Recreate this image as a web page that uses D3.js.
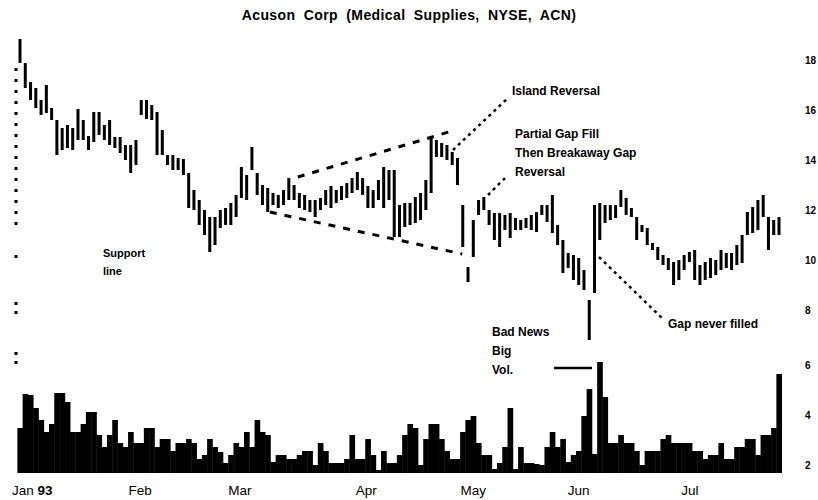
<!DOCTYPE html>
<html>
<head>
<meta charset="utf-8">
<script src="https://cdn.jsdelivr.net/npm/d3@7"></script>
<style>
  body { margin: 0; background: #fff; }
  svg { display: block; font-family: "Liberation Sans", Arial, sans-serif; }
</style>
</head>
<body>
<svg></svg>
<script>
// daily high / low (dollars), Jan 4 - Jul 30 1993, one entry per trading day
const highs = [18.84, 17.88, 17.12, 16.88, 16.40, 17.00, 16.08, 15.60, 15.28, 15.40,
  15.28, 16.04, 15.60, 14.96, 15.92, 15.92, 15.40, 15.60, 14.92, 14.92,
  14.60, 14.60, 14.80, 16.40, 16.40, 16.20, 15.92, 15.20, 14.20, 14.20,
  14.08, 14.04, 13.48, 12.80, 12.40, 12.00, 11.72, 11.72, 12.00, 12.08,
  12.28, 12.60, 13.72, 13.40, 14.52, 13.48, 13.00, 12.88, 12.68, 12.60,
  12.80, 13.28, 13.00, 12.68, 12.60, 12.40, 12.40, 12.48, 12.80, 12.96,
  12.80, 12.96, 13.08, 13.28, 13.52, 13.28, 12.96, 12.80, 13.20, 13.72,
  13.60, 13.60, 12.20, 12.28, 12.28, 12.52, 12.68, 13.20, 14.92, 14.80,
  14.68, 14.60, 14.32, 14.08, 12.20, 9.72, 11.60, 12.40, 12.52, 12.00,
  11.88, 11.88, 11.80, 11.88, 11.68, 11.60, 11.68, 11.80, 11.92, 12.20,
  12.20, 12.60, 11.40, 10.80, 10.28, 10.20, 10.08, 9.60, 8.40, 12.20,
  12.28, 12.20, 12.20, 12.20, 12.80, 12.48, 12.08, 11.72, 11.40, 11.28,
  10.68, 10.52, 10.20, 10.08, 9.92, 10.00, 10.20, 10.32, 10.40, 9.80,
  9.92, 10.08, 10.00, 10.40, 10.28, 10.28, 10.60, 11.00, 11.92, 12.12,
  12.40, 12.60, 11.72, 11.60, 11.72]
const lows = [17.88, 16.88, 16.40, 16.08, 15.80, 15.88, 15.60, 14.20, 14.40, 14.48,
  14.40, 14.80, 14.80, 14.40, 14.72, 15.00, 14.80, 14.60, 14.48, 14.28,
  14.00, 13.48, 13.80, 15.80, 15.64, 15.60, 14.20, 14.20, 13.80, 13.60,
  13.60, 13.40, 12.08, 12.00, 11.40, 11.00, 10.32, 10.60, 11.28, 11.40,
  11.40, 11.72, 12.48, 12.40, 13.60, 12.60, 12.20, 11.92, 12.20, 12.08,
  12.20, 12.40, 12.40, 12.08, 12.00, 11.92, 11.72, 12.00, 12.20, 12.08,
  12.28, 12.40, 12.48, 12.68, 12.80, 12.60, 12.08, 12.08, 12.40, 12.08,
  12.40, 10.92, 10.92, 11.32, 11.40, 11.48, 11.60, 12.00, 12.68, 14.12,
  14.12, 14.00, 13.80, 13.00, 10.52, 9.12, 10.12, 11.80, 12.00, 11.40,
  10.80, 10.52, 11.20, 10.88, 11.20, 11.20, 11.28, 11.20, 11.12, 11.80,
  11.52, 11.08, 10.60, 9.48, 9.68, 9.20, 9.00, 8.80, 6.80, 8.68,
  10.80, 11.48, 11.60, 11.68, 12.12, 11.80, 11.72, 10.80, 11.12, 10.60,
  10.40, 10.00, 9.80, 9.60, 9.00, 9.20, 9.60, 9.92, 9.20, 9.00,
  9.20, 9.28, 9.40, 9.60, 9.68, 9.60, 9.80, 9.88, 11.00, 11.08,
  11.20, 11.72, 10.40, 11.00, 11.00]
// daily volume (100,000 shares)
const volumes = [3.50, 4.86, 4.82, 4.30, 3.82, 3.34, 3.66, 4.90, 4.90, 4.54,
  3.34, 3.34, 3.66, 4.14, 4.14, 3.22, 2.74, 3.22, 3.82, 2.90,
  2.74, 3.34, 2.90, 2.90, 3.50, 3.50, 2.74, 3.06, 3.06, 2.58,
  2.90, 2.90, 3.06, 2.90, 2.26, 2.42, 3.06, 2.74, 2.54, 2.10,
  2.42, 2.90, 2.74, 3.34, 2.74, 3.82, 3.34, 3.22, 2.14, 2.42,
  2.42, 2.26, 2.26, 2.42, 2.58, 2.58, 2.02, 2.90, 2.58, 2.10,
  2.10, 2.10, 2.26, 3.22, 2.26, 2.26, 3.06, 2.42, 1.82, 2.58,
  2.10, 2.10, 2.42, 3.22, 3.66, 3.50, 2.02, 3.06, 3.66, 3.66,
  3.06, 2.58, 2.26, 2.26, 3.34, 3.82, 3.98, 2.90, 2.42, 2.42,
  1.86, 2.10, 2.74, 4.30, 1.86, 2.74, 2.10, 2.10, 2.06, 2.02,
  2.74, 3.34, 2.74, 3.06, 2.14, 2.42, 2.58, 3.98, 5.06, 2.46,
  6.14, 4.74, 2.90, 2.90, 3.22, 2.90, 2.90, 2.58, 2.02, 2.58,
  2.58, 2.58, 3.06, 3.22, 2.90, 2.90, 2.90, 2.90, 2.58, 2.58,
  2.26, 2.42, 2.42, 2.90, 2.26, 2.26, 2.74, 2.74, 3.06, 3.06,
  2.42, 3.22, 3.22, 3.50, 5.66]
const monthLabels = ['Feb', 'Mar', 'Apr', 'May', 'Jun', 'Jul']
const monthDays = [22.8, 41.7, 65.7, 86, 106, 127.1]
const priceTicks = [18, 16, 14, 12, 10, 8]
const volumeTicks = [6, 4, 2]
// wedge trendlines as [day, price]
const upperTrend = [[52.7, 13.32], [82, 15.16]]
const lowerTrend = [[47.4, 11.92], [83.9, 10.24]]

const width = 818
const height = 500

const svg = d3.select('svg')
    .attr('width', width)
    .attr('height', height)

const xScale = d3.scaleLinear()
    .domain([0, highs.length - 1])
    .range([20, 779])
const yScale = d3.scaleLinear()
    .domain([6, 19])
    .range([360, 35])
const volScale = d3.scaleLinear()
    .domain([1.7, 6.3])
    .range([473, 358])
const step = xScale(1) - xScale(0)

// title
svg.append('text')
    .attr('x', 409)
    .attr('y', 20)
    .attr('font-size', '14px')
    .attr('font-weight', 'bold')
    .style('letter-spacing', '0.4px')
    .style('word-spacing', '4px')
    .style('text-anchor', 'middle')
    .text('Acuson Corp (Medical Supplies, NYSE, ACN)')

// left frame, broken like the print
svg.append('line')
    .attr('x1', 16).attr('x2', 16)
    .attr('y1', 68).attr('y2', 230)
    .attr('stroke', '#000')
    .attr('stroke-width', 3)
    .attr('stroke-dasharray', '3,8')
;[[255, 263], [302, 314], [352, 365]].forEach(d => {
  svg.append('line')
      .attr('x1', 16).attr('x2', 16)
      .attr('y1', d[0]).attr('y2', d[1])
      .attr('stroke', '#000')
      .attr('stroke-width', 3)
      .attr('stroke-dasharray', '3,6')
})

// volume
svg.append('g')
  .selectAll('rect')
  .data(volumes)
  .enter()
  .append('rect')
    .attr('x', (d, i) => xScale(i) - step / 2)
    .attr('width', step + 0.4)
    .attr('y', d => volScale(d))
    .attr('height', d => volScale.range()[0] - volScale(d))
    .attr('fill', '#000')

// price bars
svg.append('g')
  .selectAll('rect')
  .data(highs)
  .enter()
  .append('rect')
    .attr('x', (d, i) => xScale(i) - 1.5)
    .attr('width', 3)
    .attr('y', d => yScale(d))
    .attr('height', (d, i) => Math.max(3, yScale(lows[i]) - yScale(d)))
    .attr('fill', '#000')

// wedge
;[upperTrend, lowerTrend].forEach(t => {
  svg.append('line')
      .attr('x1', xScale(t[0][0])).attr('y1', yScale(t[0][1]))
      .attr('x2', xScale(t[1][0])).attr('y2', yScale(t[1][1]))
      .attr('stroke', '#000')
      .attr('stroke-width', 3)
      .attr('stroke-dasharray', '7,8')
})

// right axes
const priceAxis = d3.axisRight(yScale).tickValues(priceTicks).tickSize(0).tickPadding(0).tickFormat(d3.format('d'))
const volAxis = d3.axisRight(volScale).tickValues(volumeTicks).tickSize(0).tickPadding(0).tickFormat(d3.format('d'))
;[priceAxis, volAxis].forEach(a => {
  const g = svg.append('g')
      .attr('transform', 'translate(805,0)')
      .call(a)
  g.select('.domain').remove()
  g.selectAll('text')
      .attr('font-size', '10px')
      .attr('font-weight', 'bold')
      .attr('font-family', '"Liberation Sans", Arial, sans-serif')
})

// month labels
const jan = svg.append('text')
    .attr('x', 12)
    .attr('y', 495)
    .attr('font-size', '13.5px')
jan.append('tspan').text('Jan ')
jan.append('tspan').attr('font-weight', 'bold').text('93')

svg.append('g')
  .selectAll('text')
  .data(monthLabels)
  .enter()
  .append('text')
    .attr('x', (d, i) => xScale(monthDays[i]))
    .attr('y', 495)
    .attr('font-size', '13.5px')
    .style('text-anchor', 'middle')
    .text(d => d)

// annotations
function note(x, y, lines, size) {
  const t = svg.append('text')
      .attr('x', x)
      .attr('y', y)
      .attr('font-size', size + 'px')
      .attr('font-weight', 'bold')
  lines.forEach((l, i) => {
    t.append('tspan')
        .attr('x', x)
        .attr('dy', i === 0 ? 0 : '1.6em')
        .text(l)
  })
}
function leader(x1, y1, x2, y2, dash) {
  svg.append('line')
      .attr('x1', x1).attr('y1', y1)
      .attr('x2', x2).attr('y2', y2)
      .attr('stroke', '#000')
      .attr('stroke-width', 2.5)
      .attr('stroke-dasharray', dash)
}

note(512, 95, ['Island Reversal'], 12)
leader(453, 150, 508, 98, '3,4')

note(515, 138, ['Partial Gap Fill', 'Then Breakaway Gap', 'Reversal'], 12)
leader(488, 195, 505, 178, '3,4')

note(103, 257, ['Support', 'line'], 11)

note(668, 328, ['Gap never filled'], 12)
leader(599, 257, 664, 320, '3,4')

note(492, 336, ['Bad News', 'Big', 'Vol.'], 12)
leader(554, 368, 592, 368, null)
</script>
</body>
</html>
